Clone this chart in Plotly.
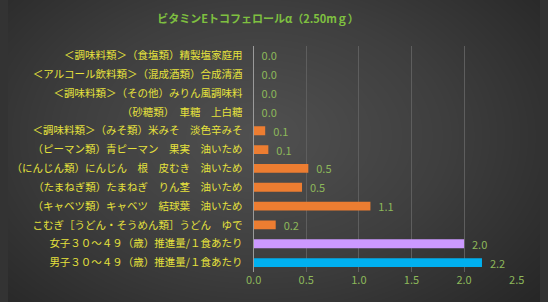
import numpy as np
import plotly.graph_objects as go

categories = [
    "＜調味料類＞（食塩類）精製塩家庭用",
    "＜アルコール飲料類＞（混成酒類）合成清酒",
    "＜調味料類＞（その他）みりん風調味料",
    "（砂糖類）　車糖　上白糖",
    "＜調味料類＞（みそ類）米みそ　淡色辛みそ",
    "（ピーマン類）青ピーマン　果実　油いため",
    "（にんじん類）にんじん　根　皮むき　油いため",
    "（たまねぎ類）たまねぎ　りん茎　油いため",
    "（キャベツ類）キャベツ　結球葉　油いため",
    "こむぎ［うどん・そうめん類］うどん　ゆで",
    "女子３０～４９（歳）推進量/１食あたり",
    "男子３０～４９（歳）推進量/１食あたり",
]
values = [0.0, 0.0, 0.0, 0.0, 0.11, 0.14, 0.52, 0.46, 1.11, 0.21, 2.00, 2.17]
bar_colors = ["#ED7D31"] * 10 + ["#CC99FF", "#00B0F0"]
x_ticks = [0, 0.5, 1.0, 1.5, 2.0, 2.5]
title_text = "ビタミンEトコフェロールα（2.50mｇ）"

W, H = 548, 302
FONT = "Noto Sans CJK JP"

# radial background gradient
gx = np.linspace(0, 1, 60)
gy = np.linspace(0, 1, 40)
GX, GY = np.meshgrid(gx, gy)
r = np.sqrt(((GX - 0.47) / 0.75) ** 2 + ((GY - 0.55) / 0.9) ** 2)
Z = np.clip(r, 0, 1)

fig = go.Figure()
fig.add_trace(go.Heatmap(
    x=gx, y=gy, z=Z, xaxis="x", yaxis="y",
    colorscale=[[0, "#505050"], [0.5, "#3e3e3e"], [1, "#262626"]],
    showscale=False, hoverinfo="skip", zsmooth="best",
))

fig.add_trace(go.Bar(
    x=values, y=categories, orientation="h",
    xaxis="x2", yaxis="y2",
    marker=dict(color=bar_colors, line=dict(width=0)),
    width=0.47,
    text=values, texttemplate="  %{x:.1f}", textposition="outside",
    constraintext="none",
    textfont=dict(color="#8DB85A", size=11, family=FONT),
    cliponaxis=False,
))

fig.update_layout(
    width=W, height=H,
    margin=dict(l=0, r=0, t=0, b=0),
    paper_bgcolor="#333333",
    plot_bgcolor="rgba(0,0,0,0)",
    showlegend=False,
    uniformtext=dict(mode=False),
    xaxis=dict(domain=[0, 1], range=[0, 1], visible=False, fixedrange=True),
    yaxis=dict(domain=[0, 1], range=[0, 1], visible=False, fixedrange=True),
    xaxis2=dict(
        domain=[253 / W, 524 / W], anchor="y2", range=[0, 2.5],
        tickvals=x_ticks, ticktext=[f"{v:.1f}" for v in x_ticks],
        showgrid=True, gridcolor="#5e5e5e", gridwidth=1,
        zeroline=False, showline=False,
        tickfont=dict(color="#8DB85A", size=11, family=FONT),
        ticks="",
    ),
    yaxis2=dict(
        domain=[1 - 272 / H, 1 - 46 / H], anchor="x2",
        autorange="reversed", categoryorder="array", categoryarray=categories,
        showline=True, linecolor="#9a9a9a", linewidth=1,
        showgrid=False, ticks="",
        tickfont=dict(color="#E6E23C", size=10.5, family=FONT),
        ticklabelstandoff=8,
    ),
    title=dict(
        text="<b>" + title_text + "</b>",
        x=258 / W, xanchor="center", y=1 - 19 / H, yanchor="middle",
        font=dict(color="#7FC040", size=11, family=FONT),
    ),
)

fig.write_html("out.html")
